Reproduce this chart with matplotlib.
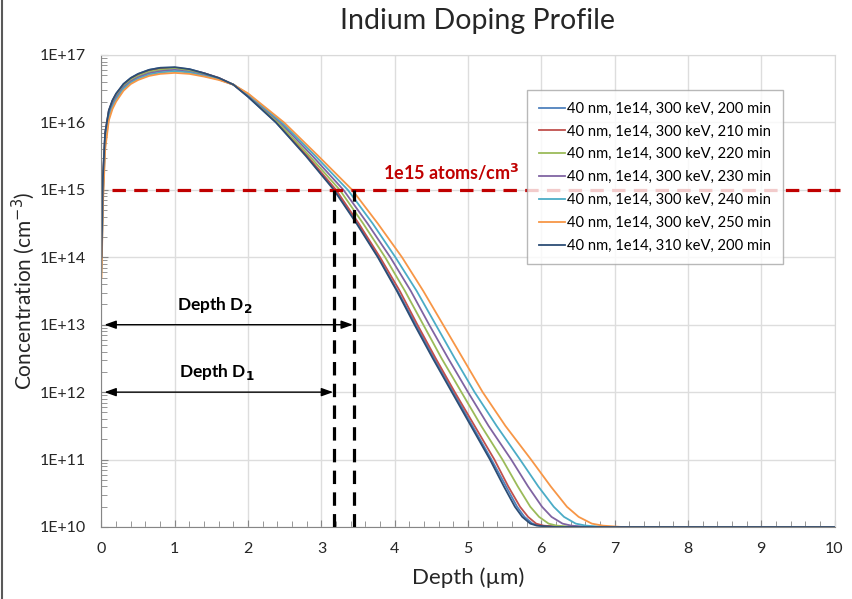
import numpy as np
import matplotlib.pyplot as plt
from matplotlib.ticker import FixedLocator, LogLocator, MultipleLocator, FuncFormatter, NullFormatter
from matplotlib.lines import Line2D

plt.rcParams['font.family'] = ['Lato', 'DejaVu Sans']

# shallow part: common depths (um), log10 of concentration per run
near_depth = [0, 0.02, 0.05, 0.1, 0.15, 0.2, 0.3, 0.4, 0.5, 0.65, 0.8, 1.0, 1.2, 1.4, 1.6, 1.8, 2.0]
near_200 = [13.99, 15.18, 15.84, 16.17, 16.32, 16.42, 16.57, 16.66, 16.72, 16.78, 16.81, 16.81, 16.79, 16.73, 16.66, 16.56, 16.38]
near_210 = [13.97, 15.16, 15.83, 16.17, 16.32, 16.42, 16.56, 16.65, 16.71, 16.77, 16.80, 16.81, 16.78, 16.73, 16.66, 16.56, 16.39]
near_220 = [13.91, 15.08, 15.78, 16.14, 16.29, 16.39, 16.54, 16.63, 16.69, 16.75, 16.78, 16.80, 16.77, 16.72, 16.65, 16.56, 16.40]
near_230 = [13.84, 14.99, 15.72, 16.10, 16.26, 16.37, 16.52, 16.61, 16.67, 16.73, 16.76, 16.78, 16.75, 16.70, 16.64, 16.56, 16.41]
near_240 = [13.78, 14.90, 15.67, 16.07, 16.23, 16.34, 16.50, 16.59, 16.65, 16.71, 16.74, 16.76, 16.74, 16.69, 16.64, 16.56, 16.42]
near_250 = [13.70, 14.80, 15.60, 16.03, 16.20, 16.31, 16.47, 16.57, 16.63, 16.69, 16.72, 16.735, 16.72, 16.68, 16.63, 16.56, 16.43]
near_310 = [14.00, 15.20, 15.85, 16.18, 16.33, 16.43, 16.57, 16.66, 16.72, 16.78, 16.81, 16.82, 16.79, 16.73, 16.66, 16.56, 16.38]

# deep part: depth (um) where each run falls to the given log10 level
tail_level = [16.0, 15.5, 15.0, 14.5, 14.0, 13.5, 13.0, 12.5, 12.0, 11.5, 11.0, 10.6, 10.3, 10.15, 10.05, 10.02, 10.0]
tail_200 = [2.38, 2.80, 3.18, 3.49, 3.78, 4.04, 4.29, 4.54, 4.80, 5.06, 5.32, 5.52, 5.67, 5.77, 5.88, 5.98, 6.24]
tail_210 = [2.39, 2.81, 3.20, 3.51, 3.80, 4.07, 4.31, 4.56, 4.82, 5.09, 5.36, 5.55, 5.71, 5.82, 5.93, 6.03, 6.29]
tail_220 = [2.41, 2.84, 3.25, 3.57, 3.87, 4.14, 4.39, 4.64, 4.91, 5.18, 5.47, 5.68, 5.85, 5.97, 6.10, 6.21, 6.47]
tail_230 = [2.44, 2.88, 3.30, 3.63, 3.94, 4.22, 4.47, 4.73, 5.00, 5.28, 5.59, 5.82, 6.01, 6.14, 6.29, 6.41, 6.67]
tail_240 = [2.46, 2.92, 3.36, 3.70, 4.01, 4.30, 4.56, 4.82, 5.09, 5.39, 5.71, 5.96, 6.17, 6.31, 6.47, 6.61, 6.87]
tail_250 = [2.49, 2.96, 3.42, 3.77, 4.10, 4.39, 4.66, 4.93, 5.20, 5.51, 5.86, 6.13, 6.35, 6.51, 6.69, 6.84, 7.10]
tail_310 = [2.38, 2.79, 3.17, 3.48, 3.77, 4.03, 4.27, 4.52, 4.78, 5.04, 5.30, 5.49, 5.64, 5.74, 5.85, 5.94, 6.20]

labels = ['40 nm, 1e14, 300 keV, 200 min', '40 nm, 1e14, 300 keV, 210 min',
          '40 nm, 1e14, 300 keV, 220 min', '40 nm, 1e14, 300 keV, 230 min',
          '40 nm, 1e14, 300 keV, 240 min', '40 nm, 1e14, 300 keV, 250 min',
          '40 nm, 1e14, 310 keV, 200 min']
colors = ['#4F81BD', '#C0504D', '#9BBB59', '#8064A2', '#4BACC6', '#F79646', '#2C4D75']
runs = [(near_200, tail_200), (near_210, tail_210), (near_220, tail_220), (near_230, tail_230),
        (near_240, tail_240), (near_250, tail_250), (near_310, tail_310)]

y_ticks = [1e10, 1e11, 1e12, 1e13, 1e14, 1e15, 1e16, 1e17]
d1 = 3.17
d2 = 3.44
threshold = 1e15

fig = plt.figure(figsize=(8.53, 5.99), dpi=100)
ax = fig.add_axes([101.5 / 853, 1 - 527 / 599, 733 / 853, 472 / 599])

for (near, tail), lab, col in zip(runs, labels, colors):
    x = near_depth + tail + [10.0]
    y = 10 ** np.array(near + tail_level + [10.0])
    ax.plot(x, y, color=col, lw=1.3, label=lab, solid_joinstyle='round')

ax.set_yscale('log')
ax.set_xlim(0, 10)
ax.set_ylim(1e10, 1e17)

# threshold and depth markers
ax.plot([0.14, 10.08], [threshold, threshold], color='#C00000', lw=2.3,
        linestyle=(0, (4.2, 2.6)), clip_on=False, zorder=5)
ax.text(4.77, 10 ** 15.26, '1e15 atoms/cm$^\\mathbf{3}$', color='#C00000', fontsize=13,
        fontweight='bold', ha='center', va='center')
for d in (d1, d2):
    ax.plot([d, d], [1e10, threshold], color='black', lw=2.3, linestyle=(0, (4.2, 2.6)), zorder=5)

arr = dict(arrowstyle='<|-|>,head_length=0.7,head_width=0.25', color='black', lw=1,
           shrinkA=0, shrinkB=0)
ax.annotate('', xy=(d2 - 0.01, 1e13), xytext=(0.04, 1e13), arrowprops=arr)
ax.annotate('', xy=(d1 - 0.01, 1e12), xytext=(0.04, 1e12), arrowprops=arr)
ax.text(1.55, 10 ** 13.29, 'Depth D$_\\mathbf{2}$', fontsize=12.5, fontweight='bold',
        ha='center', va='center')
ax.text(1.58, 10 ** 12.30, 'Depth D$_\\mathbf{1}$', fontsize=12.5, fontweight='bold',
        ha='center', va='center')

# axes styling, Excel look
ax.xaxis.set_major_locator(MultipleLocator(1))
ax.xaxis.set_minor_locator(MultipleLocator(0.2))
ax.yaxis.set_major_locator(FixedLocator(y_ticks))
ax.yaxis.set_minor_locator(LogLocator(base=10, subs=np.arange(2, 10), numticks=20))
ax.yaxis.set_minor_formatter(NullFormatter())
ax.yaxis.set_major_formatter(FuncFormatter(lambda v, p: '1E+%d' % round(np.log10(v))))
ax.tick_params(which='major', direction='in', length=5, color='#868686',
               labelsize=11.5, labelcolor='#262626', pad=11)
ax.tick_params(which='minor', direction='in', length=4, color='#868686')
ax.grid(True, which='major', color='#DDDDDD', lw=1)
ax.set_axisbelow(True)
for s in ax.spines.values():
    s.set_color('#D9D9D9')
ax.spines['left'].set_color('#868686')
ax.spines['bottom'].set_color('#868686')

ax.set_xlabel('Depth (µm)', fontsize=16, color='#262626', labelpad=8)
ax.set_ylabel('Concentration (cm$^{-3}$)', fontsize=15, color='#262626', labelpad=2)
fig.text(0.56, 0.965, 'Indium Doping Profile', fontsize=20.5, ha='center', va='center',
         color='#262626')

leg = ax.legend(loc='upper left', bbox_to_anchor=(0.5805, 0.926), borderaxespad=0,
                fontsize=10.6, handlelength=1.8, handletextpad=0.1, labelspacing=0.6,
                frameon=True, fancybox=False, borderpad=0.8)
leg.get_frame().set_edgecolor('#A6A6A6')
leg.get_frame().set_linewidth(1)
leg.set_zorder(6)

fig.add_artist(Line2D([0.002, 0.002], [0, 1], color='#595959', lw=1.5))

fig.savefig('out.png', dpi=100)
